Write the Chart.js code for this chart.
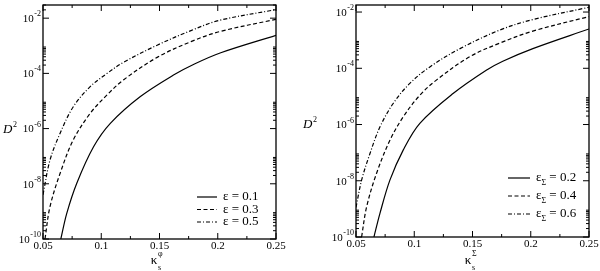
<!DOCTYPE html>
<html>
<head>
<meta charset="UTF-8">
<title>D2 vs kappa</title>
<script src="https://cdn.jsdelivr.net/npm/chart.js"></script>
<style>
  body { margin: 0; background: #fff; }
  #wrap { display: flex; width: 600px; height: 271px; }
  canvas { display: block; }
</style>
</head>
<body>
<div id="wrap">
  <canvas id="leftChart" width="300" height="271"></canvas>
  <canvas id="rightChart" width="300" height="271"></canvas>
</div>
<script>
// axis ticks
const xTicks = [0.05, 0.1, 0.15, 0.2, 0.25];
const xTickLabels = ['0.05', '0.1', '0.15', '0.2', '0.25'];
const xMinorTicks = [0.075, 0.125, 0.175, 0.225];
const yExponents = [-10, -8, -6, -4, -2];
const yMinorMult = [2, 3, 4, 5, 6, 7, 8, 9];

// left panel (kappa_s^phi), legend values of epsilon
const leftEps = ['0.1', '0.3', '0.5'];
const kL1 = [0.0653, 0.0704, 0.079, 0.0934, 0.1078, 0.1336, 0.162, 0.18, 0.2026, 0.25];
const dL1 = [1.0e-10, 8.5e-10, 1.05e-8, 2.19e-7, 1.55e-6, 1.45e-5, 8.7e-5, 2.19e-4, 5.6e-4, 2.4e-3];
const kL2 = [0.0517, 0.056, 0.0647, 0.076, 0.0905, 0.105, 0.119, 0.148, 0.177, 0.2013, 0.25];
const dL2 = [1.0e-10, 1.48e-9, 2.4e-8, 3.9e-7, 3.55e-6, 1.66e-5, 5.75e-5, 3.8e-4, 1.41e-3, 3.24e-3, 9.1e-3];
const kL3 = [0.05, 0.056, 0.0647, 0.076, 0.0905, 0.105, 0.119, 0.148, 0.177, 0.2013, 0.25];
const dL3 = [4.0e-9, 7.2e-8, 6.8e-7, 6.2e-6, 3.3e-5, 1.0e-4, 2.5e-4, 1.05e-3, 3.55e-3, 8.3e-3, 2.04e-2];

// right panel (kappa_s^Sigma), legend values of epsilon_Sigma
const rightEps = ['0.2', '0.4', '0.6'];
const kR1 = [0.0654, 0.0705, 0.0791, 0.0905, 0.1048, 0.1333, 0.1618, 0.176, 0.2018, 0.25];
const dR1 = [1.0e-10, 6.8e-10, 1.05e-8, 1.23e-7, 1.1e-6, 1.26e-5, 8.5e-5, 1.78e-4, 5.0e-4, 2.5e-3];
const kR2 = [0.0548, 0.0591, 0.0676, 0.0791, 0.0905, 0.1048, 0.119, 0.1476, 0.1736, 0.2018, 0.25];
const dR2 = [1.0e-10, 1.17e-9, 1.82e-8, 2.75e-7, 1.86e-6, 1.1e-5, 3.8e-5, 2.57e-4, 7.9e-4, 2.1e-3, 6.9e-3];
const kR3 = [0.05, 0.0548, 0.062, 0.0705, 0.0819, 0.0962, 0.1134, 0.1393, 0.1736, 0.2018, 0.25];
const dR3 = [1.12e-9, 1.05e-8, 9.3e-8, 8.1e-7, 5.6e-6, 2.9e-5, 1.12e-4, 5.0e-4, 2.3e-3, 5.4e-3, 1.48e-2];

const SERIF = '"Liberation Serif", "DejaVu Serif", serif';
const dashes = [[], [4, 2.5], [4, 2, 1, 2]];

function zip(ks, ds) {
  return ks.map((k, i) => ({ x: k, y: ds[i] }));
}

function makeSets(pairs, eps) {
  return pairs.map((p, i) => ({
    label: eps[i],
    data: zip(p[0], p[1]),
    borderColor: '#000',
    borderWidth: 1.2,
    borderDash: dashes[i],
    pointRadius: 0,
    fill: false,
    tension: 0.35
  }));
}

// frame, inward ticks, y labels, axis titles and legend, drawn xmgrace style
const framePlugin = {
  id: 'frame',
  afterDraw(chart, args, o) {
    const ctx = chart.ctx;
    const a = chart.chartArea;
    const xs = chart.scales.x, ys = chart.scales.y;
    ctx.save();
    ctx.strokeStyle = '#000';
    ctx.fillStyle = '#000';
    ctx.lineWidth = 1.3;
    ctx.setLineDash([]);
    ctx.strokeRect(a.left, a.top, a.right - a.left, a.bottom - a.top);

    ctx.lineWidth = 1;
    ctx.beginPath();
    const vTick = (v, len) => {
      const px = xs.getPixelForValue(v);
      ctx.moveTo(px, a.bottom); ctx.lineTo(px, a.bottom - len);
      ctx.moveTo(px, a.top); ctx.lineTo(px, a.top + len);
    };
    xTicks.forEach(v => vTick(v, 6));
    xMinorTicks.forEach(v => vTick(v, 3));
    const hTick = (v, len) => {
      if (v < ys.min || v > ys.max) return;
      const py = ys.getPixelForValue(v);
      ctx.moveTo(a.left, py); ctx.lineTo(a.left + len, py);
      ctx.moveTo(a.right, py); ctx.lineTo(a.right - len, py);
    };
    yExponents.forEach(e => {
      hTick(Math.pow(10, e), 6);
      yMinorMult.forEach(m => hTick(m * Math.pow(10, e), 3));
    });
    ctx.stroke();

    // y tick labels 10^e
    ctx.textBaseline = 'middle';
    yExponents.forEach(e => {
      const py = ys.getPixelForValue(Math.pow(10, e));
      ctx.textAlign = 'right';
      ctx.font = '8px ' + SERIF;
      const ex = String(e);
      const exR = a.left - 2;
      ctx.fillText(ex, exR, py - 4);
      const w = ctx.measureText(ex).width;
      ctx.font = '11px ' + SERIF;
      ctx.fillText('10', exR - w - 0.5, py + 1);
    });

    // y title: D^2
    ctx.textAlign = 'left';
    ctx.textBaseline = 'alphabetic';
    ctx.font = 'italic 13px ' + SERIF;
    ctx.fillText('D', o.yTitleX, o.yTitleY);
    const dw = ctx.measureText('D').width;
    ctx.font = '8px ' + SERIF;
    ctx.fillText('2', o.yTitleX + dw + 0.5, o.yTitleY - 6);

    // x title: kappa_s^sup
    ctx.font = '13px ' + SERIF;
    ctx.textAlign = 'center';
    ctx.fillText('κ', o.xTitleX, 264);
    ctx.textAlign = 'left';
    ctx.font = '8px ' + SERIF;
    ctx.fillText(o.xSup, o.xTitleX + 4, 256);
    ctx.fillText('s', o.xTitleX + 4, 270);

    // legend
    chart.data.datasets.forEach((ds, i) => {
      const y = o.legY + i * o.legGap;
      ctx.beginPath();
      ctx.lineWidth = 1.2;
      ctx.setLineDash(ds.borderDash);
      ctx.moveTo(o.legX, y);
      ctx.lineTo(o.legX + o.legLen, y);
      ctx.stroke();
      ctx.setLineDash([]);
      let tx = o.legX + o.legLen + 6;
      ctx.textBaseline = 'middle';
      ctx.font = '13px ' + SERIF;
      ctx.fillText('ε', tx, y);
      tx += ctx.measureText('ε').width;
      if (o.legSub) {
        ctx.font = '8px ' + SERIF;
        ctx.fillText(o.legSub, tx, y + 5);
        tx += ctx.measureText(o.legSub).width;
        ctx.font = '13px ' + SERIF;
      }
      ctx.fillText(' = ' + ds.label, tx, y);
    });
    ctx.restore();
  }
};

function makeChart(id, datasets, o) {
  return new Chart(document.getElementById(id), {
    type: 'line',
    data: { datasets: datasets },
    options: {
      responsive: false,
      animation: false,
      layout: { padding: { top: 5, right: o.padRight, left: 0, bottom: 0 } },
      plugins: { legend: { display: false }, tooltip: { enabled: false }, frame: o },
      scales: {
        x: {
          type: 'linear', min: 0.05, max: 0.25,
          afterFit: s => { s.height = o.xAxisH; },
          afterBuildTicks: s => { s.ticks = xTicks.map(v => ({ value: v })); },
          grid: { display: false, drawTicks: false },
          border: { display: false },
          ticks: {
            padding: 1, color: '#000', maxRotation: 0, autoSkip: false,
            font: { family: SERIF, size: 11 },
            callback: v => xTickLabels[xTicks.findIndex(t => Math.abs(t - v) < 1e-9)]
          }
        },
        y: {
          type: 'logarithmic', min: 1e-10, max: o.yMax,
          afterFit: s => { s.width = o.yAxisW; },
          grid: { display: false, drawTicks: false },
          border: { display: false },
          ticks: { display: false }
        }
      }
    },
    plugins: [framePlugin]
  });
}

makeChart('leftChart', makeSets([[kL1, dL1], [kL2, dL2], [kL3, dL3]], leftEps), {
  padRight: 24, xAxisH: 32, yAxisW: 43, yMax: 0.03,
  yTitleX: 3, yTitleY: 133, xTitleX: 154, xSup: 'φ',
  legX: 197, legY: 197, legGap: 12.5, legLen: 20, legSub: ''
});

makeChart('rightChart', makeSets([[kR1, dR1], [kR2, dR2], [kR3, dR3]], rightEps), {
  padRight: 11, xAxisH: 34, yAxisW: 56, yMax: 0.0178,
  yTitleX: 3, yTitleY: 128, xTitleX: 168, xSup: 'Σ',
  legX: 208, legY: 178, legGap: 18, legLen: 22, legSub: 'Σ'
});
</script>
</body>
</html>
